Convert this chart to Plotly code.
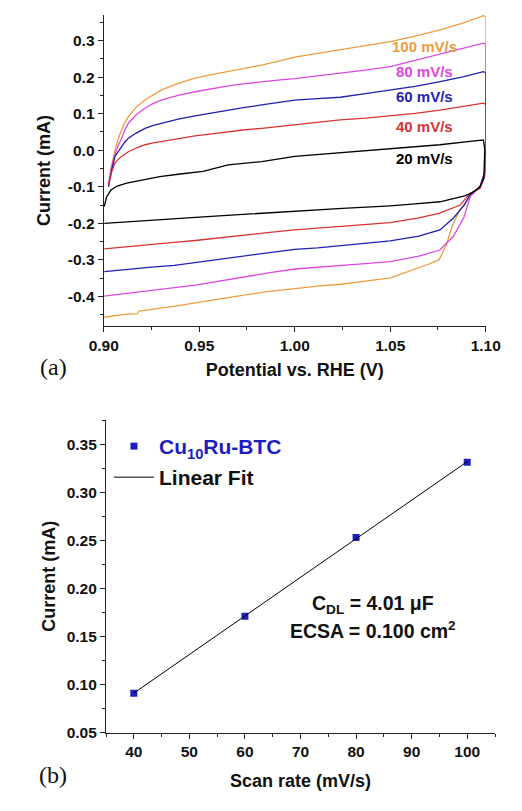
import numpy as np
import plotly.graph_objects as go

# ---------------- Panel (a): CV curves ----------------
scan_labels = ["100 mV/s", "80 mV/s", "60 mV/s", "40 mV/s", "20 mV/s"]
scan_colors = ["#ED9C3E", "#DE48DE", "#1E1EB0", "#D83232", "#000000"]

pot_100 = [0.9025, 0.904, 0.9059, 0.9075, 0.9094, 0.9110, 0.9129, 0.917, 0.9216, 0.9260, 0.9304, 0.9390, 0.9478, 0.9565,
           0.9652, 0.974, 0.9827, 0.991, 1.0, 1.012, 1.0238, 1.037, 1.05, 1.063, 1.0761, 1.088, 1.0988,
           1.1, 1.1, 1.0995, 1.097, 1.093, 1.0866, 1.083, 1.079, 1.0765, 1.0755, 1.070, 1.060, 1.05, 1.037,
           1.025, 1.012, 1.0, 0.987, 0.975, 0.962, 0.948, 0.939, 0.930, 0.922, 0.9185, 0.9175, 0.910, 0.9003]
cur_100 = [-0.095, -0.045, 0.0, 0.030, 0.056, 0.075, 0.092, 0.118, 0.138, 0.152, 0.165, 0.183, 0.197, 0.207,
           0.215, 0.224, 0.233, 0.243, 0.255, 0.265, 0.275, 0.285, 0.297, 0.312, 0.329, 0.348, 0.368,
           0.365, 0.05, -0.07, -0.103, -0.118, -0.163, -0.200, -0.264, -0.290, -0.300, -0.312, -0.330, -0.349, -0.358,
           -0.366, -0.372, -0.378, -0.386, -0.395, -0.406, -0.419, -0.425, -0.432, -0.437, -0.440, -0.447, -0.450, -0.457]

pot_80 = [0.9025, 0.904, 0.9059, 0.9075, 0.9094, 0.9110, 0.9129, 0.917, 0.9216, 0.9260, 0.9304, 0.9390, 0.9478, 0.9565,
          0.9652, 0.974, 0.9827, 0.991, 1.0, 1.012, 1.0238, 1.037, 1.05, 1.063, 1.0761, 1.088, 1.0988,
          1.1, 1.1, 1.0995, 1.097, 1.0919, 1.0887, 1.083, 1.076, 1.065, 1.05, 1.037, 1.025, 1.012, 1.0,
          0.987, 0.975, 0.962, 0.948, 0.937, 0.925, 0.912, 0.9003]
cur_80 = [-0.095, -0.050, -0.012, 0.012, 0.033, 0.055, 0.074, 0.097, 0.115, 0.128, 0.138, 0.150, 0.160, 0.168,
          0.176, 0.182, 0.188, 0.192, 0.196, 0.203, 0.211, 0.219, 0.229, 0.246, 0.265, 0.280, 0.293,
          0.290, 0.04, -0.06, -0.100, -0.127, -0.182, -0.236, -0.273, -0.290, -0.305, -0.310, -0.315, -0.320, -0.325,
          -0.335, -0.345, -0.356, -0.369, -0.376, -0.383, -0.391, -0.399]

pot_60 = [0.9025, 0.904, 0.9059, 0.9075, 0.9094, 0.9110, 0.9129, 0.917, 0.9216, 0.9260, 0.9304, 0.9390, 0.9478, 0.9565,
          0.9652, 0.974, 0.9827, 0.991, 1.0, 1.012, 1.0238, 1.037, 1.05, 1.063, 1.0761, 1.088, 1.0988,
          1.1, 1.1, 1.0995, 1.097, 1.0918, 1.0887, 1.083, 1.076, 1.065, 1.05, 1.037, 1.025, 1.012, 1.0,
          0.987, 0.975, 0.962, 0.948, 0.937, 0.925, 0.912, 0.9003]
cur_60 = [-0.100, -0.058, -0.017, -0.003, 0.010, 0.022, 0.033, 0.047, 0.060, 0.068, 0.074, 0.085, 0.094, 0.102,
          0.110, 0.117, 0.124, 0.130, 0.137, 0.141, 0.145, 0.155, 0.165, 0.175, 0.188, 0.201, 0.215,
          0.212, 0.03, -0.06, -0.100, -0.122, -0.150, -0.186, -0.218, -0.235, -0.248, -0.255, -0.262, -0.267, -0.271,
          -0.280, -0.290, -0.299, -0.309, -0.315, -0.320, -0.326, -0.332]

pot_40 = [0.9025, 0.904, 0.9059, 0.9075, 0.9094, 0.9110, 0.9129, 0.917, 0.9216, 0.9260, 0.9304, 0.9390, 0.9478, 0.9565,
          0.9652, 0.974, 0.9827, 0.991, 1.0, 1.012, 1.0238, 1.037, 1.05, 1.063, 1.0761, 1.088, 1.0988,
          1.1, 1.1, 1.0995, 1.097, 1.0918, 1.0866, 1.076, 1.065, 1.05, 1.037, 1.025, 1.012, 1.0,
          0.987, 0.975, 0.962, 0.948, 0.937, 0.925, 0.912, 0.9003]
cur_40 = [-0.095, -0.062, -0.035, -0.025, -0.017, -0.010, -0.004, 0.006, 0.015, 0.020, 0.024, 0.032, 0.039, 0.045,
          0.051, 0.056, 0.060, 0.065, 0.070, 0.076, 0.083, 0.088, 0.094, 0.101, 0.110, 0.119, 0.129,
          0.125, 0.0, -0.07, -0.105, -0.118, -0.150, -0.172, -0.185, -0.198, -0.203, -0.208, -0.213, -0.218,
          -0.225, -0.232, -0.240, -0.247, -0.252, -0.258, -0.264, -0.270]

pot_20 = [0.9003, 0.9015, 0.9038, 0.907, 0.912, 0.920, 0.9294, 0.940, 0.952, 0.9652, 0.9827, 1.0, 1.012, 1.0238,
          1.037, 1.05, 1.063, 1.076, 1.0953, 1.0988,
          1.0995, 1.099, 1.097, 1.093, 1.089, 1.076, 1.063, 1.05, 1.025, 1.0, 0.975, 0.948, 0.925, 0.9003]
cur_20 = [-0.154, -0.128, -0.109, -0.098, -0.090, -0.082, -0.072, -0.065, -0.058, -0.040, -0.031, -0.017, -0.012, -0.007,
          -0.001, 0.005, 0.010, 0.015, 0.026, 0.028,
          0.0, -0.077, -0.100, -0.116, -0.125, -0.141, -0.147, -0.152, -0.159, -0.166, -0.175, -0.184, -0.192, -0.200]

cv_pots = [pot_100, pot_80, pot_60, pot_40, pot_20]
cv_curs = [cur_100, cur_80, cur_60, cur_40, cur_20]
label_y = [0.284, 0.215, 0.146, 0.066, -0.022]

# ---------------- Panel (b): scan-rate dependence ----------------
scan_rate = [40, 60, 80, 100]
current_b = [0.091, 0.171, 0.253, 0.331]

a_yticks = [-0.4, -0.3, -0.2, -0.1, 0.0, 0.1, 0.2, 0.3]
a_yticktext = ["-0.4", "-0.3", "-0.2", "-0.1", "0.0", "0.1", "0.2", "0.3"]
a_xticks = [0.90, 0.95, 1.00, 1.05, 1.10]
b_yticks = [0.05, 0.10, 0.15, 0.20, 0.25, 0.30, 0.35]
b_xticks = [40, 50, 60, 70, 80, 90, 100]

fig = go.Figure()

for p, c, col in zip(cv_pots, cv_curs, scan_colors):
    fig.add_trace(go.Scatter(x=p, y=c, mode="lines", line=dict(color=col, width=1.3),
                             xaxis="x", yaxis="y", showlegend=False, hoverinfo="skip"))

slope, intercept = np.polyfit(scan_rate, current_b, 1)
fit_x = [scan_rate[0], scan_rate[-1]]
fit_y = [slope * v + intercept for v in fit_x]

fig.add_trace(go.Scatter(x=scan_rate, y=current_b, mode="markers",
                         marker=dict(symbol="square", size=7, color="#1E1EC0"),
                         name="Cu<sub>10</sub>Ru-BTC", xaxis="x2", yaxis="y2", legend="legend"))
fig.add_trace(go.Scatter(x=fit_x, y=fit_y, mode="lines", line=dict(color="#000000", width=1),
                         name="Linear Fit", xaxis="x2", yaxis="y2", legend="legend2"))

FAM = "Liberation Sans, Arial"
tickfont = dict(family=FAM, size=15.5, color="#111111", weight="bold")
titlefont = dict(family=FAM, size=18, color="#111111", weight="bold")

common = dict(showline=True, linecolor="#222222", linewidth=1.2, ticks="outside", ticklen=5,
              tickwidth=1.1, tickcolor="#222222", showgrid=False, zeroline=False, mirror=False,
              tickfont=tickfont, automargin=False)

fig.update_layout(
    width=522, height=811,
    margin=dict(l=0, r=0, t=0, b=0, autoexpand=False),
    paper_bgcolor="white", plot_bgcolor="white",
    xaxis=dict(domain=[0.1987, 0.9305], anchor="y", range=[0.90, 1.10],
               tickvals=a_xticks, tickformat=".2f",
               minor=dict(dtick=0.025, tick0=0.9, ticks="outside", ticklen=3, tickcolor="#222222"),
               title=dict(text="Potential vs. RHE (V)", font=titlefont, standoff=10), **common),
    yaxis=dict(domain=[0.598, 0.9815], anchor="x", range=[-0.481, 0.37],
               tickvals=a_yticks, ticktext=a_yticktext,
               minor=dict(dtick=0.05, tick0=0.0, ticks="outside", ticklen=3, tickcolor="#222222"),
               title=dict(text="Current (mA)", font=titlefont, standoff=12), **common),
    xaxis2=dict(domain=[0.2031, 0.9483], anchor="y2", range=[35, 105],
                tickvals=b_xticks,
                minor=dict(dtick=5, tick0=35, ticks="outside", ticklen=3, tickcolor="#222222"),
                title=dict(text="Scan rate (mV/s)", font=titlefont, standoff=14), **common),
    yaxis2=dict(domain=[0.0965, 0.4821], anchor="x2", range=[0.05, 0.375],
                tickvals=b_yticks, tickformat=".2f",
                minor=dict(dtick=0.025, tick0=0.05, ticks="outside", ticklen=3, tickcolor="#222222"),
                title=dict(text="Current (mA)", font=titlefont, standoff=6), **common),
    legend=dict(x=109 / 522, y=1 - 426 / 811, xanchor="left", yanchor="top", bgcolor="rgba(0,0,0,0)",
                itemwidth=40,
                font=dict(family=FAM, size=21, color="#1E1EC0", weight="bold")),
    legend2=dict(x=109 / 522, y=1 - 457 / 811, xanchor="left", yanchor="top", bgcolor="rgba(0,0,0,0)",
                 itemwidth=40,
                 font=dict(family=FAM, size=21, color="#111111", weight="bold")),
)

for txt, col, ly in zip(scan_labels, scan_colors, label_y):
    fig.add_annotation(x=1.068, y=ly, xref="x", yref="y", text=txt, showarrow=False,
                       font=dict(family=FAM, size=15, color=col, weight="bold"))

fig.add_annotation(x=83, y=0.183, xref="x2", yref="y2", text="C<sub>DL</sub> = 4.01 μF", showarrow=False,
                   font=dict(family=FAM, size=19.5, color="#111111", weight="bold"))
fig.add_annotation(x=83, y=0.157, xref="x2", yref="y2", text="ECSA = 0.100 cm<sup>2</sup>", showarrow=False,
                   font=dict(family=FAM, size=19.5, color="#111111", weight="bold"))

fig.add_annotation(x=53 / 522, y=1 - 367 / 811, xref="paper", yref="paper", text="(a)", showarrow=False,
                   xanchor="center", yanchor="middle",
                   font=dict(family="Liberation Serif, Times New Roman", size=24, color="#111111"))
fig.add_annotation(x=53 / 522, y=1 - 775 / 811, xref="paper", yref="paper", text="(b)", showarrow=False,
                   xanchor="center", yanchor="middle",
                   font=dict(family="Liberation Serif, Times New Roman", size=24, color="#111111"))

fig.write_html("out.html", config={"displayModeBar": False},
               post_script="document.body.style.margin='0px';")
